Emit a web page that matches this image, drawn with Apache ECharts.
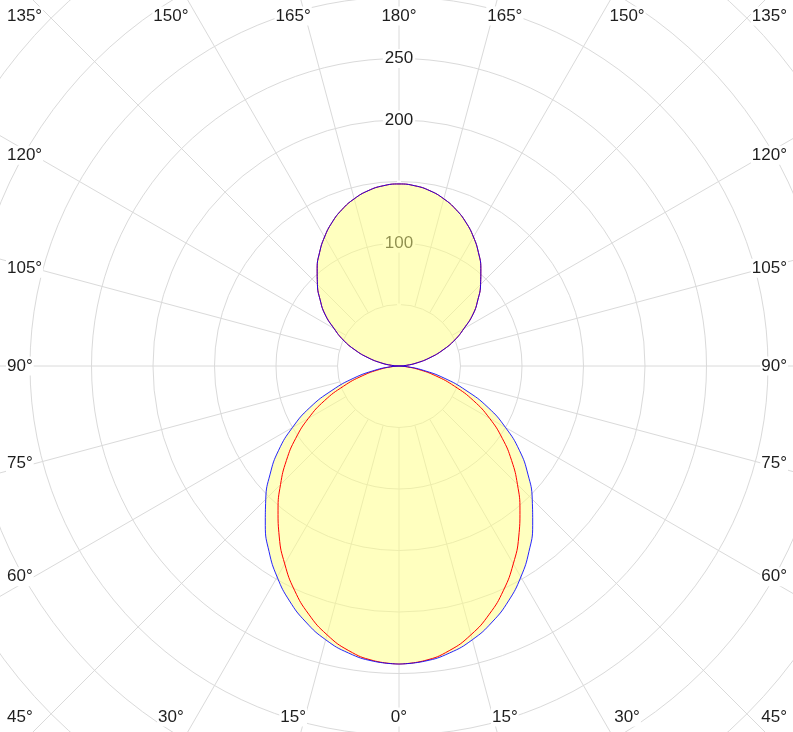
<!DOCTYPE html>
<html>
<head>
<meta charset="utf-8">
<script src="https://cdn.jsdelivr.net/npm/echarts@6/dist/echarts.min.js"></script>
<style>
html,body{margin:0;padding:0;background:#fff;}
#chart{width:793px;height:732px;}
</style>
</head>
<body>
<div id="chart"></div>
<script>
// gamma angles (degrees from nadir), step 5
var gammaAngles = [0,5,10,15,20,25,30,35,40,45,50,55,60,65,70,75,80,85,90,95,100,105,110,115,120,125,130,135,140,145,150,155,160,165,170,175,180];
// C0-C180 plane (red)
var redValues = [242.3,240.4,235.0,226.2,214.7,201.1,185.8,169.7,153.0,136.2,119.5,102.5,85,67,48,31,16,5,0,6,15,26,38,50,61,73.5,83.7,93.8,103.5,112.6,121.1,128.8,135.4,140.7,144.7,147.1,148.0];
// C90-C270 plane (blue)
var blueValues = [242.3,240.9,236.9,230.4,221.5,210.7,198.1,184.2,169.1,153.2,136.8,119.5,100,80,58,38,20,7,0,6,15,26,38,50,61,73.5,83.7,93.8,103.5,112.6,121.1,128.8,135.4,140.7,144.7,147.1,148.0];
// radial tick labels shown
var radiusLabelValues = [100,200,250];
// angle labels (gamma)
var angleLabelValues = [0,15,30,45,60,75,90,105,120,135,150,165,180];

function loop(vals){
  var pts = [];
  for (var i = 0; i < gammaAngles.length; i++) pts.push([vals[i], 180 - gammaAngles[i]]);
  for (var j = gammaAngles.length - 2; j >= 0; j--) pts.push([vals[j], 180 + gammaAngles[j]]);
  return pts;
}

var CX = 399, CY = 366, UNIT = 61.5; // px per 50
var font = 'Liberation Sans, Arial, sans-serif';
var FS = 17;

var chart = echarts.init(document.getElementById('chart'), null, {renderer:'canvas'});

var graphics = [];
var HX = 365, HY = 395;
angleLabelValues.forEach(function(g){
  [-1, 1].forEach(function(s){
    if ((g === 0 || g === 180) && s === 1) return;
    var r = g * Math.PI / 180;
    var dx = s * Math.sin(r), dy = Math.cos(r);
    var x, y, align = 'center';
    if (Math.abs(dx) * HY >= Math.abs(dy) * HX) {
      var t = HX / Math.abs(dx);
      y = CY + dy * t;
      if (s < 0) { x = 6; align = 'left'; } else { x = 788; align = 'right'; }
    } else {
      var t2 = HY / Math.abs(dy);
      x = CX + dx * t2;
      y = CY + dy * t2;
    }
    y = Math.max(16, Math.min(717, y));
    graphics.push({
      type: 'text', x: x, y: y, z: 100,
      style: {
        text: g + '°', fill: '#1e1e1e', font: FS + 'px ' + font,
        align: align, verticalAlign: 'middle',
        backgroundColor: '#fff', padding: [1, 1]
      }
    });
  });
});

chart.setOption({
  animation: false,
  backgroundColor: '#fff',
  polar: [
    { center: [CX, CY], radius: [UNIT, UNIT * 10] },
    { center: [CX, CY], radius: [0, UNIT * 10] }
  ],
  angleAxis: [{
    polarIndex: 0,
    type: 'value', min: 0, max: 360, interval: 15, startAngle: 90, clockwise: true,
    axisLine: { show: false }, axisTick: { show: false }, axisLabel: { show: false },
    splitLine: { show: true, lineStyle: { color: '#dadada', width: 1 } }
  }, {
    polarIndex: 1,
    type: 'value', min: 0, max: 360, interval: 15, startAngle: 90, clockwise: true,
    axisLine: { show: false }, axisTick: { show: false }, axisLabel: { show: false },
    splitLine: { show: false }
  }],
  radiusAxis: [{
    polarIndex: 0,
    type: 'value', min: 50, max: 500, interval: 50, z: 1,
    axisLine: { show: false }, axisTick: { show: false },
    splitLine: { show: true, lineStyle: { color: '#dadada', width: 1 } },
    axisLabel: {
      show: true, margin: 0, align: 'center', verticalAlign: 'middle',
      color: '#1e1e1e', fontSize: FS, fontFamily: font,
      backgroundColor: '#fff', padding: [1, 2],
      formatter: function(v){ return radiusLabelValues.indexOf(v) >= 0 ? String(v) : ''; }
    }
  }, {
    polarIndex: 1,
    type: 'value', min: 0, max: 500, interval: 50,
    axisLine: { show: false }, axisTick: { show: false },
    splitLine: { show: false }, axisLabel: { show: false }
  }],
  graphic: graphics,
  series: [
    {
      type: 'line', coordinateSystem: 'polar', polarIndex: 1, data: loop(blueValues),
      showSymbol: false, symbol: 'none', smooth: true, z: 2,
      lineStyle: { width: 0, opacity: 0 },
      areaStyle: { color: 'rgba(255,255,128,0.5)', opacity: 1 }
    },
    {
      type: 'line', coordinateSystem: 'polar', polarIndex: 1, data: loop(redValues),
      showSymbol: false, symbol: 'none', smooth: true, z: 3,
      lineStyle: { color: '#ff0000', width: 1 }
    },
    {
      type: 'line', coordinateSystem: 'polar', polarIndex: 1, data: loop(blueValues),
      showSymbol: false, symbol: 'none', smooth: true, z: 4,
      lineStyle: { color: '#0000ff', width: 1, opacity: 0.85 }
    }
  ]
});
</script>
</body>
</html>
